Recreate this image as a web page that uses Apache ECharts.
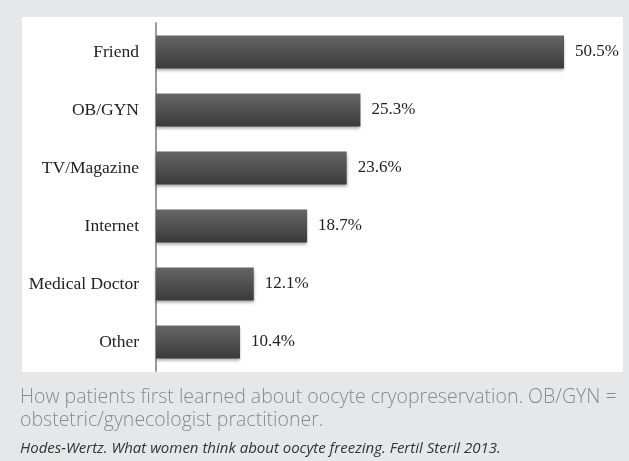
<!DOCTYPE html>
<html><head><meta charset="utf-8">
<script src="https://cdn.jsdelivr.net/npm/echarts@6/dist/echarts.min.js"></script>
<style>html,body{margin:0;padding:0;background:#e6e7e8;}#c{width:629px;height:461px;}</style>
</head><body><div id="c"></div>
<script>
const categories = ['Friend','OB/GYN','TV/Magazine','Internet','Medical Doctor','Other'];
const values = [50.5, 25.3, 23.6, 18.7, 12.1, 10.4];
const captionLines = ['How patients first learned about oocyte cryopreservation. OB/GYN =','obstetric/gynecologist practitioner.'];
const citation = 'Hodes-Wertz. What women think about oocyte freezing. Fertil Steril 2013.';

const chart = echarts.init(document.getElementById('c'));
chart.setOption({
  backgroundColor: '#e6e7e8',
  animation: false,
  graphic: [
    {type:'rect', z:-10, shape:{x:22,y:17,width:601,height:355}, style:{fill:'#ffffff'}},
    {type:'text', x:20, y:397, style:{x:0, y:0, text:captionLines[0], font:'300 19.5px "Open Sans"', fill:'#8a8a8a', verticalAlign:'middle'}},
    {type:'text', x:20, y:420, style:{x:0, y:0, text:captionLines[1], font:'300 19.5px "Open Sans"', fill:'#8a8a8a', verticalAlign:'middle'}},
    {type:'text', x:20, y:449, style:{x:0, y:0, text:citation, font:'italic 15px "Open Sans"', fill:'#333333', verticalAlign:'middle'}}
  ],
  grid: {left:156, top:23, width:452.5, height:348, containLabel:false},
  xAxis: {type:'value', min:0, max:56, show:false},
  yAxis: {
    type:'category', data:categories, inverse:true,
    axisLine:{show:true, lineStyle:{color:'#9a9a9a', width:2}},
    axisTick:{show:false},
    axisLabel:{color:'#222', fontFamily:'Liberation Serif', fontSize:17.5, margin:17}
  },
  series: [{
    type:'bar', data:values, barWidth:33,
    itemStyle:{
      color:new echarts.graphic.LinearGradient(0,0,0,1,[{offset:0,color:'#666667'},{offset:1,color:'#3a3a3a'}]),
      shadowColor:'rgba(0,0,0,0.35)', shadowBlur:3, shadowOffsetY:2
    },
    label:{show:true, position:'right', distance:11, formatter:p=>p.value.toFixed(1)+'%', color:'#222', fontFamily:'Liberation Serif', fontSize:17}
  }]
});
</script></body></html>
